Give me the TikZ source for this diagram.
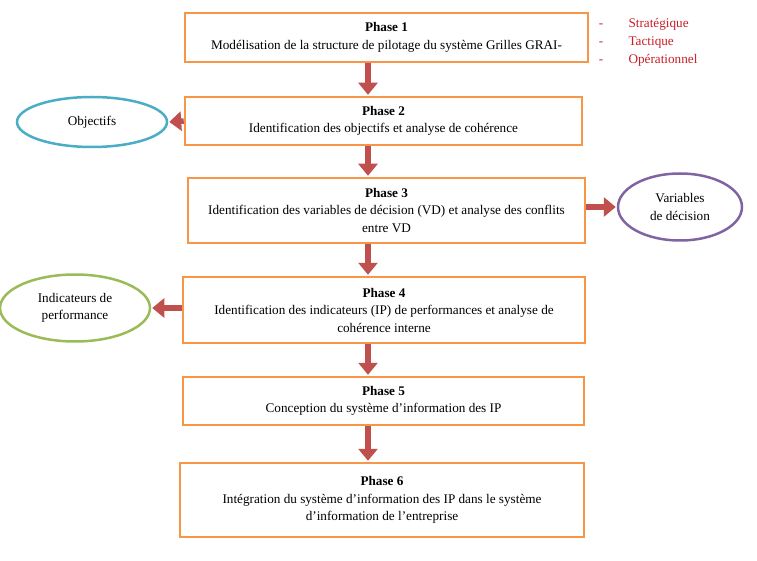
\documentclass[tikz,border=0pt]{standalone}
\usepackage{fontspec}
\setmainfont{Liberation Serif}
\usetikzlibrary{shapes.geometric,arrows.meta}
\definecolor{boxorange}{RGB}{247,150,70}
\definecolor{arrowred}{RGB}{192,80,77}
\definecolor{listred}{RGB}{200,30,40}
\definecolor{ellblue}{RGB}{75,172,198}
\definecolor{ellpurple}{RGB}{128,100,162}
\definecolor{ellgreen}{RGB}{155,187,89}
\tikzset{
    phase/.style={draw=boxorange, line width=2.5pt, fill=white, align=center,
        inner sep=0pt, font=\fontsize{13.2}{17.5}\selectfont},
    bubble/.style={ellipse, line width=2.5pt, align=center, inner sep=0pt,
        font=\fontsize{13.2}{17.5}\selectfont},
    flow/.style={arrowred, line width=5.5pt,
        -{Triangle[width=19pt,length=12pt]}, shorten >=1pt}
}
\begin{document}
\begin{tikzpicture}[x=1pt,y=-1pt]
    \useasboundingbox (0,0) rectangle (757,561);
    % Phase boxes
    \node[phase, minimum width=403pt, minimum height=49pt] (p1) at (386.5,37.5)
        {\textbf{Phase 1}\\Modélisation de la structure de pilotage du système Grilles GRAI-};
    \node[phase, minimum width=397pt, minimum height=48pt] (p2) at (383.5,121)
        {\textbf{Phase 2}\\Identification des objectifs et analyse de cohérence};
    \node[phase, minimum width=397pt, minimum height=65pt] (p3) at (386.5,210.5)
        {\textbf{Phase 3}\\Identification des variables de décision (VD) et analyse des conflits\\entre VD};
    \node[phase, minimum width=402pt, minimum height=66pt] (p4) at (384,310)
        {\textbf{Phase 4}\\Identification des indicateurs (IP) de performances et analyse de\\cohérence interne};
    \node[phase, minimum width=401pt, minimum height=48pt] (p5) at (383.5,401)
        {\textbf{Phase 5}\\Conception du système d’information des IP};
    \node[phase, minimum width=404pt, minimum height=74pt] (p6) at (382,500)
        {\textbf{Phase 6}\\Intégration du système d’information des IP dans le système\\d’information de l’entreprise};

    % Side ellipses
    \node[bubble, draw=ellblue, minimum width=150pt, minimum height=50pt] (obj) at (92,122) {Objectifs};
    \node[bubble, draw=ellpurple, minimum width=124pt, minimum height=67pt] (vd) at (680,207) {Variables\\de décision};
    \node[bubble, draw=ellgreen, minimum width=150pt, minimum height=67pt] (ip) at (75,308) {Indicateurs de\\performance};

    % Levels of Phase 1
    \foreach \lvl [count=\i] in {Stratégique,Tactique,Opérationnel} {
        \node[anchor=base, text=listred, font=\fontsize{13.2}{14}\selectfont] (d\i) at (601,28+18*\i-18) {-};
        \node[anchor=base west, text=listred, font=\fontsize{13.2}{14}\selectfont] (l\i) at (625,28+18*\i-18) {\lvl};
    }

    % Flow arrows
    \coordinate (ax) at (368,0);
    \draw[flow] (p1.south -| ax) -- (p2.north -| ax);
    \draw[flow] (p2.south -| ax) -- (p3.north -| ax);
    \draw[flow] (p3.south -| ax) -- (p4.north -| ax);
    \draw[flow] (p4.south -| ax) -- (p5.north -| ax);
    \draw[flow] (p5.south -| ax) -- (p6.north -| ax);
    \draw[flow] (p2.west) -- (obj.east);
    \draw[flow] (p3.east |- vd) -- (vd.west);
    \draw[flow] (p4.west |- ip) -- (ip.east);
\end{tikzpicture}
\end{document}
